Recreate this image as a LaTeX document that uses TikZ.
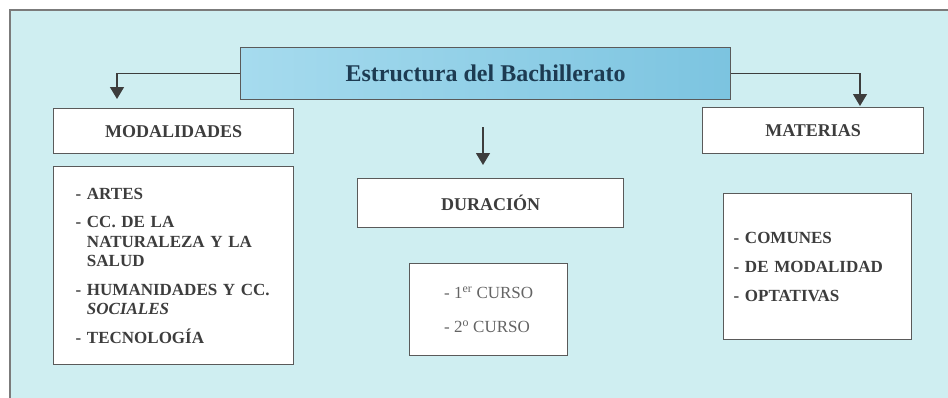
\documentclass[tikz,border=0pt]{standalone}
\usepackage{fontspec}
\setmainfont{Liberation Serif}
\usepackage{tikz}
\usetikzlibrary{positioning, arrows.meta}
\definecolor{panelcyan}{HTML}{CFEEF1}
\definecolor{titleblue}{HTML}{7CC4E0}
\definecolor{titlelight}{HTML}{A6DBEE}
\definecolor{titleink}{HTML}{1D3B52}
\definecolor{boxink}{HTML}{3D3D3D}
\definecolor{boxline}{HTML}{5A5A5A}

\tikzset{
  headbox/.style={draw=boxline, line width=1.3pt, fill=white, anchor=north west,
    inner sep=0pt, text=boxink, font=\fontsize{18}{22}\selectfont\bfseries},
  listbox/.style={headbox, font=\fontsize{17}{19.5}\selectfont\bfseries, align=left},
  downarrow/.style={draw=boxink, line width=1.2pt, -{Triangle[width=14pt,length=12pt]}}
}

\begin{document}
\begin{tikzpicture}[x=1pt, y=-1pt]
  \useasboundingbox (0,0) rectangle (948,397);
  % panel
  \fill[panelcyan] (10,10) rectangle (952,401);
  \draw[boxline!80, line width=1.5pt] (10,401) -- (10,10) -- (952,10);

  % title
  \node[anchor=north west, draw=boxline, line width=1.2pt, left color=titlelight, right color=titleblue,
        minimum width=490pt, minimum height=52pt, inner sep=0pt, text=titleink,
        font=\fontsize{24}{28}\selectfont\bfseries] (title) at (240,47) {Estructura del Bachillerato};

  % headings
  \node[headbox, minimum width=240pt, minimum height=45pt] (modalidades) at (53,108) {MODALIDADES};
  \node[headbox, minimum width=266pt, minimum height=49pt] (duracion) at (357,178) {DURACIÓN};
  \node[headbox, minimum width=221pt, minimum height=46pt] (materias) at (702,107) {MATERIAS};

  % lists
  \node[listbox, minimum width=240pt, minimum height=198pt, text width=196pt, inner xsep=22pt] (modlist) at (53,166) {%
    - ARTES\\[9pt]
    - CC. DE LA\\
    \phantom{- }NATURALEZA Y LA\\
    \phantom{- }SALUD\\[9pt]
    - HUMANIDADES Y CC.\\
    \phantom{- }\textit{SOCIALES}\\[9pt]
    - TECNOLOGÍA};
  \node[listbox, minimum width=158pt, minimum height=92pt, font=\fontsize{17}{34}\selectfont,
        text=boxink!80] (cursos) at (409,263) {%
    - 1\textsuperscript{er} CURSO\\
    - 2\textsuperscript{o} CURSO};
  \node[listbox, minimum width=188pt, minimum height=146pt, text width=168pt, inner xsep=10pt,
        font=\fontsize{17}{29}\selectfont\bfseries] (matlist) at (723,193) {%
    - COMUNES\\
    - DE MODALIDAD\\
    - OPTATIVAS};

  % arrows
  \coordinate (lefttip) at (117,99);
  \coordinate (righttip) at (860,106);
  \coordinate (midstart) at (483,127);
  \coordinate (midtip) at (483,165);
  \draw[downarrow] (title.west) -| (lefttip);
  \draw[downarrow] (title.east) -| (righttip);
  \draw[downarrow] (midstart) -- (midtip);
\end{tikzpicture}
\end{document}
